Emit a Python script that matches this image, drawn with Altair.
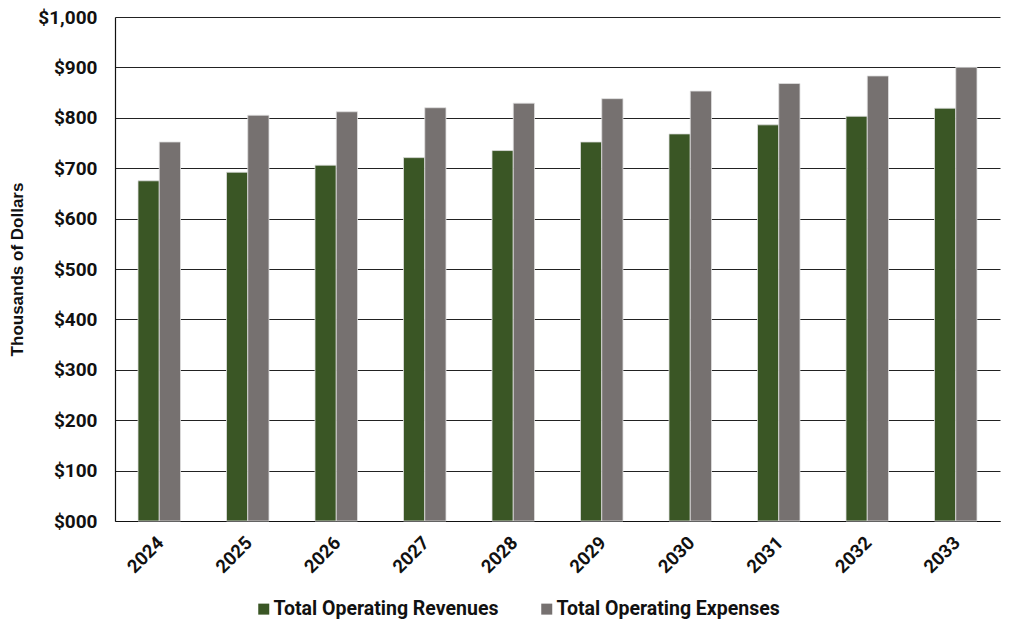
import altair as alt
import pandas as pd

years = ["2024", "2025", "2026", "2027", "2028", "2029", "2030", "2031", "2032", "2033"]
revenues = [675, 692, 706, 721, 735, 752, 768, 786, 803, 819]
expenses = [752, 805, 812, 820, 829, 838, 853, 868, 883, 900]
series = ["Total Operating Revenues", "Total Operating Expenses"]
colors = ["#3A5625", "#767170"]
y_ticks = [0, 100, 200, 300, 400, 500, 600, 700, 800, 900, 1000]

rows = []
for yr, rev, exp in zip(years, revenues, expenses):
    rows.append({"year": yr, "series": series[0], "value": rev})
    rows.append({"year": yr, "series": series[1], "value": exp})
df = pd.DataFrame(rows)

FONT = "Roboto"
TITLE_FONT = "Liberation Sans"

chart = (
    alt.Chart(df)
    .mark_bar(stroke="#e0e0e0", strokeWidth=0.8)
    .encode(
        x=alt.X(
            "year:N",
            sort=years,
            title=None,
            scale=alt.Scale(paddingInner=0.52, paddingOuter=0.26),
            axis=alt.Axis(
                labelAngle=-45,
                labelFont=FONT,
                labelFontSize=18.5,
                labelFontWeight="bold",
                labelColor="#111",
                ticks=False,
                labelPadding=12,
                labelOffset=-5,
                domainColor="#111",
                domainWidth=1.2,
            ),
        ),
        xOffset=alt.XOffset("series:N", sort=series),
        y=alt.Y(
            "value:Q",
            title="Thousands of Dollars",
            scale=alt.Scale(domain=[0, 1000], nice=False),
            axis=alt.Axis(
                values=y_ticks,
                labelExpr="datum.value == 0 ? '$000' : format(datum.value, '$,.0f')",
                labelFont=FONT,
                labelFontSize=19,
                labelFontWeight="bold",
                labelColor="#111",
                labelPadding=18,
                ticks=False,
                grid=True,
                gridColor="#222",
                gridWidth=1,
                domainColor="#111",
                domainWidth=1.2,
                titleFont=TITLE_FONT,
                titleFontSize=17,
                titleFontWeight="bold",
                titleColor="#111",
                titleX=-89,
            ),
        ),
        color=alt.Color(
            "series:N",
            sort=series,
            scale=alt.Scale(domain=series, range=colors),
            legend=alt.Legend(
                title=None,
                orient="none",
                direction="horizontal",
                legendX=139,
                legendY=582,
                symbolType="square",
                symbolSize=121,
                symbolStrokeWidth=0,
                labelFont=FONT,
                labelFontSize=19.5,
                labelFontWeight="bold",
                labelColor="#111",
                labelLimit=0,
                columnPadding=38,
                labelOffset=0,
            ),
        ),
    )
    .properties(
        width=885,
        height=504,
        autosize=alt.AutoSizeParams(type="none"),
        padding={"left": 115, "top": 17, "right": 18, "bottom": 101},
        background="white",
    )
    .configure_view(stroke=None)
)

chart.save("out.html", embed_options={"renderer": "svg", "actions": False})
